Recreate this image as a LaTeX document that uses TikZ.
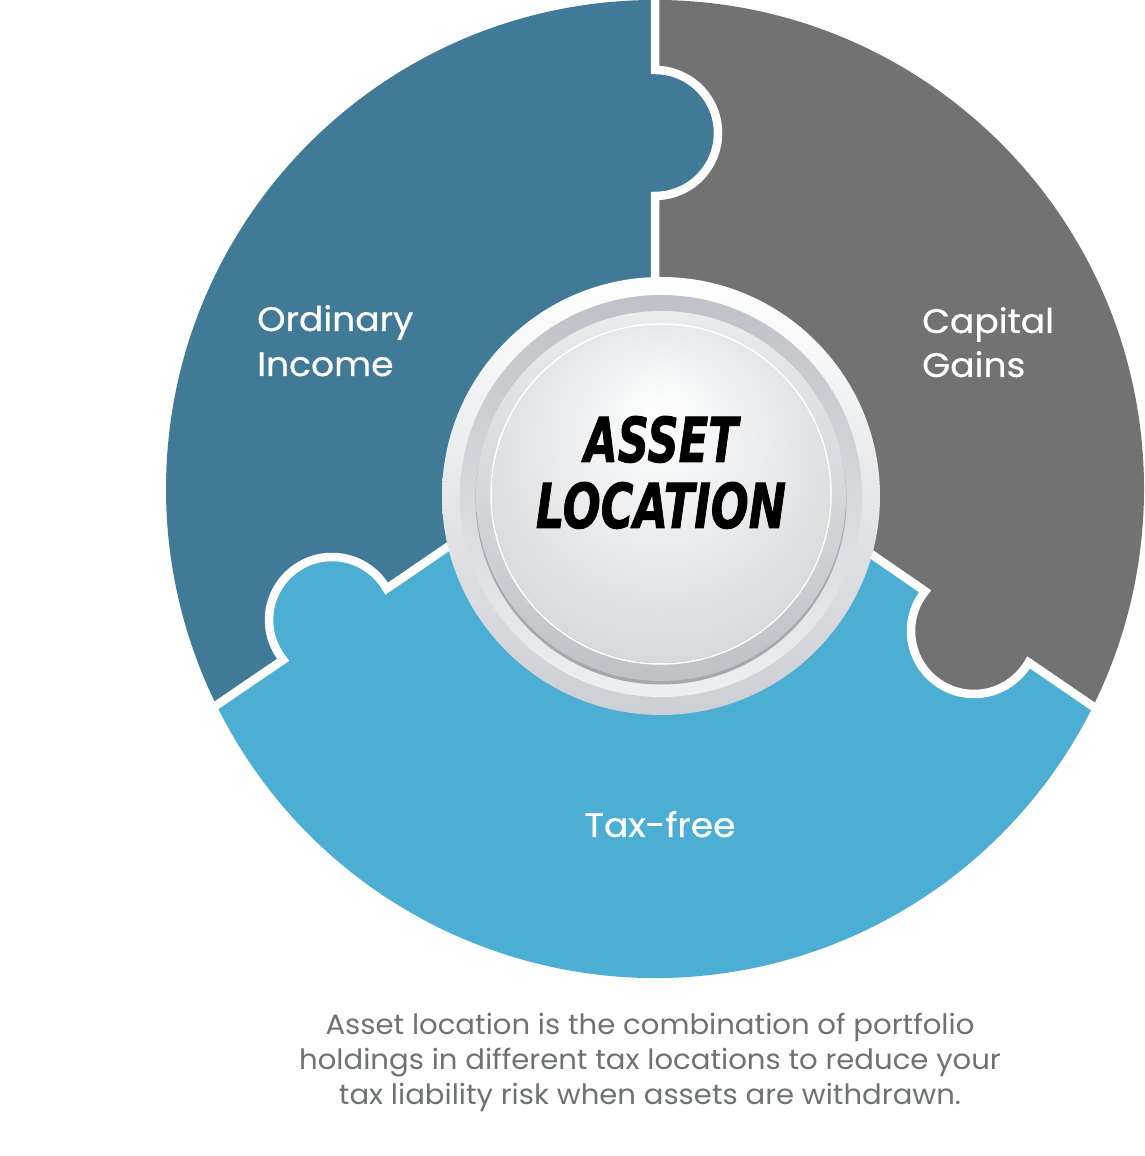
\documentclass[tikz,border=0pt]{standalone}
\usepackage{fontspec}
\usepackage{graphicx}
\setmainfont{Poppins}
\newfontfamily\labfont{Poppins}[FakeBold=0.6]
\newfontfamily\heavyfont{DejaVu Sans}[BoldItalicFeatures={FakeBold=1.5}]
\usetikzlibrary{calc}
\definecolor{ordblue}{RGB}{65,122,151}
\definecolor{capgray}{RGB}{114,114,114}
\definecolor{taxblue}{RGB}{77,174,211}
\definecolor{captxt}{RGB}{112,113,116}
\definecolor{ringbot}{RGB}{203,206,211}
\definecolor{insettop}{RGB}{190,193,199}
\definecolor{insetbot}{RGB}{238,239,241}
\definecolor{btntop}{RGB}{234,235,237}
\definecolor{btnbot}{RGB}{190,193,198}
\definecolor{shadowc}{RGB}{165,168,174}
\definecolor{diskmid}{RGB}{225,227,229}
\definecolor{diskedge}{RGB}{188,191,196}
\pgfdeclareradialshading{innerdisk}{\pgfpoint{0bp}{12bp}}{color(0bp)=(white); color(22bp)=(diskmid); color(50bp)=(diskedge)}
\tikzset{
  gap/.style={draw=white, line width=8.5pt},
  piecelabel/.style={inner sep=0pt, text=white, font=\labfont\fontsize{34}{34}\selectfont},
  captionline/.style={inner sep=0pt, anchor=base, text=captxt, font=\fontsize{28}{28}\selectfont},
  centertext/.style={inner sep=0pt, anchor=base, text=black, font=\heavyfont\bfseries\itshape\fontsize{62}{62}\selectfont}
}
\begin{document}
\begin{tikzpicture}[x=1pt,y=1pt]
\useasboundingbox (0,0) rectangle (1145,1156);
\fill[white] (0,0) rectangle (1145,1156);
% key points
\coordinate (O) at (655,667);
\coordinate (P) at (655,751);
\coordinate (KT) at (655,1023);
\coordinate (KL) at (332,536);
\coordinate (KR) at (974,525);
\coordinate (Top) at (655,1156);
\coordinate (Lend) at ($(O)+(206.25:489)$);
\coordinate (Rend) at ($(O)+(333.6:489)$);
\coordinate (TA) at ($(KT)+(90:63)$);
\coordinate (TB) at ($(KT)+(-90:63)$);
\coordinate (LA) at ($(KL)+(29.8:63)$);
\coordinate (LB) at ($(KL)+(219.2:63)$);
\coordinate (RA) at ($(KR)+(140.9:63)$);
\coordinate (RB) at ($(KR)+(330.1:63)$);
% pieces
\fill[ordblue] (P) -- (TB) arc[start angle=-90,end angle=90,radius=63] -- (Top)
  arc[start angle=90,end angle=206.25,radius=489] -- (LB)
  arc[start angle=219.2,end angle=29.8,radius=63] -- cycle;
\fill[capgray] (P) -- (TB) arc[start angle=-90,end angle=90,radius=63] -- (Top)
  arc[start angle=90,end angle=-26.4,radius=489] -- (RB)
  arc[start angle=330.1,end angle=140.9,radius=63] -- cycle;
\fill[taxblue] (P) -- (LA) arc[start angle=29.8,end angle=219.2,radius=63] -- (Lend)
  arc[start angle=206.25,end angle=333.6,radius=489] -- (RB)
  arc[start angle=330.1,end angle=140.9,radius=63] -- cycle;
% white gaps
\draw[gap] ($(Top)+(0,12)$) -- (TA) arc[start angle=90,end angle=-90,radius=63] -- (P);
\draw[gap] (P) -- (LA) arc[start angle=29.8,end angle=219.2,radius=63] -- ($(LB)!1.25!(Lend)$);
\draw[gap] (P) -- (RA) arc[start angle=140.9,end angle=330.1,radius=63] -- ($(RB)!1.25!(Rend)$);
% centre button
\coordinate (C) at (661,660);
\shade[top color=white, bottom color=ringbot] (C) circle[radius=219];
\shade[top color=insettop, bottom color=insetbot] (C) circle[radius=201];
\fill[shadowc] ($(C)+(0,-3)$) circle[radius=185.5];
\shade[top color=btntop, bottom color=btnbot] (C) circle[radius=185];
\draw[white, line width=1.5pt] ($(C)+(0,2)$) circle[radius=170];
\shade[shading=innerdisk] ($(C)+(0,2)$) circle[radius=169];
\node[centertext] (asset) at (661,694) {\scalebox{0.70}[1]{ASSET}};
\node[centertext] (location) at (661,628) {\scalebox{0.72}[1]{LOCATION}};
% labels
\node[piecelabel, anchor=base west] (ord1) at (257,825) {\scalebox{1.06}[1]{Ordinary}};
\node[piecelabel, anchor=base west] (ord2) at (257,780) {\scalebox{1.06}[1]{Income}};
\node[piecelabel, anchor=base west] (cap1) at (922,823) {\scalebox{1.06}[1]{Capital}};
\node[piecelabel, anchor=base west] (cap2) at (922,779) {\scalebox{1.06}[1]{Gains}};
\node[piecelabel, anchor=base] (tax) at (660,319) {\scalebox{1.06}[1]{Tax-free}};
% caption
\node[captionline] (c1) at (650,121) {\scalebox{1.04}[1]{Asset location is the combination of portfolio}};
\node[captionline] (c2) at (650,86) {\scalebox{1.04}[1]{holdings in different tax locations to reduce your}};
\node[captionline] (c3) at (650,51) {\scalebox{1.04}[1]{tax liability risk when assets are withdrawn.}};
\end{tikzpicture}
\end{document}
